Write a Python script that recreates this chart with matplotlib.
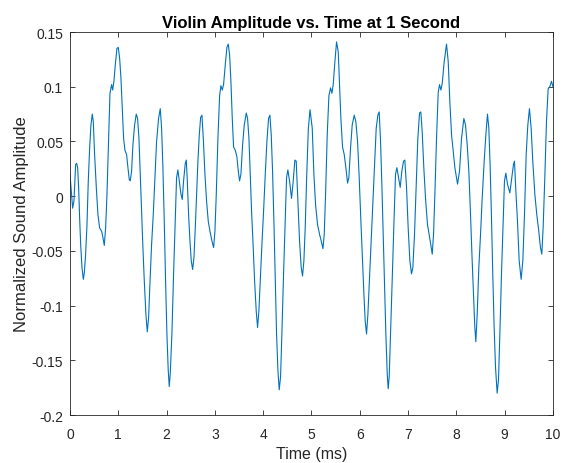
import matplotlib
matplotlib.use("Agg")
import matplotlib.pyplot as plt

# waveform, time in ms
time_ms = [
    0.000, 0.021, 0.055, 0.083, 0.117, 0.138, 0.159, 0.179, 0.200, 0.221,
    0.248, 0.276, 0.297, 0.324, 0.352, 0.379, 0.407, 0.434, 0.462, 0.483,
    0.510, 0.545, 0.579, 0.614, 0.655, 0.683, 0.710, 0.738, 0.766, 0.800,
    0.828, 0.862, 0.883, 0.910, 0.938, 0.972, 1.000, 1.028, 1.055, 1.083,
    1.110, 1.138, 1.172, 1.200, 1.228, 1.248, 1.276, 1.303, 1.338, 1.372,
    1.400, 1.428, 1.455, 1.483, 1.510, 1.538, 1.572, 1.600, 1.628, 1.655,
    1.690, 1.724, 1.759, 1.793, 1.834, 1.869, 1.897, 1.924, 1.952, 1.979,
    2.007, 2.034, 2.055, 2.076, 2.110, 2.145, 2.179, 2.207, 2.234, 2.262,
    2.297, 2.324, 2.352,
    2.387, 2.408, 2.429, 2.456, 2.484, 2.511, 2.539, 2.567, 2.594, 2.622,
    2.649, 2.677, 2.705, 2.732, 2.760, 2.794, 2.829, 2.863, 2.898, 2.939,
    2.974, 3.001, 3.029, 3.063, 3.098, 3.125, 3.153, 3.180, 3.215, 3.249,
    3.277, 3.305, 3.332, 3.360, 3.387, 3.422, 3.456, 3.484, 3.511, 3.539,
    3.574, 3.608, 3.650, 3.677, 3.705, 3.732, 3.760, 3.794, 3.822, 3.856,
    3.884, 3.911, 3.939, 3.974, 4.008, 4.043, 4.077, 4.111, 4.139, 4.167,
    4.194, 4.222, 4.250, 4.277, 4.305, 4.332, 4.360, 4.387, 4.422, 4.456,
    4.484, 4.511, 4.546, 4.587, 4.622, 4.656, 4.684, 4.718, 4.753, 4.787,
    4.815, 4.843, 4.870, 4.900, 4.935, 4.970,
    5.016, 5.050, 5.085, 5.126, 5.168, 5.202, 5.237, 5.264, 5.292, 5.326,
    5.361, 5.395, 5.423, 5.450, 5.485, 5.519, 5.554, 5.581, 5.609, 5.643,
    5.678, 5.712, 5.747, 5.774, 5.809, 5.843, 5.885, 5.919, 5.954, 5.988,
    6.023, 6.057, 6.085, 6.112, 6.140, 6.168, 6.202, 6.237, 6.271, 6.306,
    6.340, 6.374, 6.402, 6.430, 6.457, 6.485, 6.512, 6.540, 6.568, 6.588,
    6.609, 6.637, 6.671, 6.706, 6.740, 6.768, 6.802, 6.837, 6.871, 6.906,
    6.933, 6.968, 7.002, 7.037, 7.071, 7.099, 7.133, 7.168, 7.202, 7.237,
    7.264, 7.292, 7.326, 7.361, 7.402,
    7.458, 7.500, 7.527, 7.555, 7.589, 7.624, 7.651, 7.679, 7.707, 7.748,
    7.796, 7.831, 7.865, 7.900, 7.934, 7.969, 8.024, 8.065, 8.107, 8.155,
    8.189, 8.224, 8.258, 8.293, 8.327, 8.355, 8.382, 8.403, 8.431, 8.465,
    8.500, 8.534, 8.576, 8.610, 8.644, 8.672, 8.700, 8.727, 8.755, 8.782,
    8.810, 8.844, 8.872, 8.900, 8.934, 8.969, 8.996, 9.024, 9.058, 9.107,
    9.148, 9.182, 9.203, 9.231, 9.265, 9.300, 9.341, 9.376, 9.410, 9.445,
    9.479, 9.513, 9.548, 9.582, 9.624, 9.665, 9.706, 9.741, 9.769, 9.796,
    9.831, 9.865, 9.900, 9.934, 9.969, 10.000,
]
amplitude = [
    0.020, 0.008, -0.011, -0.004, 0.029, 0.030, 0.026, 0.008, -0.020, -0.044,
    -0.065, -0.076, -0.070, -0.053, -0.026, 0.014, 0.044, 0.065, 0.075, 0.068,
    0.038, 0.008, -0.017, -0.029, -0.032, -0.038, -0.045, -0.029, 0.002, 0.053,
    0.094, 0.102, 0.097, 0.105, 0.120, 0.135, 0.136, 0.126, 0.108, 0.080,
    0.053, 0.042, 0.038, 0.026, 0.015, 0.014, 0.023, 0.047, 0.065, 0.075,
    0.071, 0.053, 0.020, -0.017, -0.047, -0.077, -0.108, -0.124, -0.111, -0.080,
    -0.044, -0.017, 0.017, 0.050, 0.071, 0.080, 0.062, 0.026, -0.023, -0.077,
    -0.126, -0.159, -0.174, -0.162, -0.126, -0.071, -0.023, 0.017, 0.024, 0.014,
    0.002, -0.003, 0.014,
    0.030, 0.033, 0.014, -0.017, -0.041, -0.059, -0.067, -0.056, -0.029, 0.002,
    0.032, 0.056, 0.072, 0.074, 0.053, 0.020, -0.005, -0.023, -0.032, -0.041,
    -0.047, -0.032, 0.002, 0.053, 0.092, 0.101, 0.097, 0.102, 0.120, 0.136,
    0.139, 0.129, 0.105, 0.071, 0.045, 0.042, 0.036, 0.023, 0.014, 0.020,
    0.047, 0.065, 0.076, 0.071, 0.053, 0.020, -0.014, -0.047, -0.077, -0.105,
    -0.120, -0.105, -0.077, -0.044, -0.014, 0.020, 0.050, 0.071, 0.074, 0.056,
    0.023, -0.023, -0.077, -0.126, -0.159, -0.177, -0.165, -0.126, -0.071, -0.023,
    0.017, 0.024, 0.014, -0.002, 0.014, 0.033, 0.032, -0.005, -0.041, -0.065,
    -0.073, -0.059, -0.029, 0.017, 0.062, 0.079,
    0.062, 0.020, -0.008, -0.026, -0.035, -0.041, -0.048, -0.035, 0.002, 0.056,
    0.092, 0.099, 0.094, 0.102, 0.123, 0.141, 0.132, 0.102, 0.071, 0.045,
    0.038, 0.026, 0.012, 0.017, 0.044, 0.065, 0.074, 0.068, 0.050, 0.017,
    -0.023, -0.059, -0.089, -0.114, -0.126, -0.108, -0.074, -0.041, -0.005, 0.029,
    0.062, 0.074, 0.077, 0.050, 0.011, -0.035, -0.083, -0.126, -0.162, -0.176,
    -0.165, -0.126, -0.077, -0.026, 0.020, 0.026, 0.017, 0.008, 0.023, 0.032,
    0.033, 0.008, -0.029, -0.059, -0.071, -0.065, -0.035, 0.011, 0.053, 0.076,
    0.077, 0.059, 0.026, -0.002, -0.026,
    -0.041, -0.053, -0.035, 0.002, 0.053, 0.095, 0.102, 0.097, 0.103, 0.123,
    0.139, 0.123, 0.086, 0.056, 0.041, 0.026, 0.011, 0.023, 0.053, 0.071,
    0.065, 0.047, 0.023, -0.017, -0.059, -0.089, -0.120, -0.133, -0.108, -0.065,
    -0.035, -0.002, 0.032, 0.056, 0.075, 0.062, 0.026, -0.020, -0.074, -0.120,
    -0.156, -0.180, -0.168, -0.126, -0.071, -0.023, 0.014, 0.021, 0.011, 0.003,
    0.017, 0.029, 0.032, 0.005, -0.023, -0.059, -0.076, -0.059, -0.017, 0.038,
    0.065, 0.080, 0.062, 0.032, 0.002, -0.017, -0.032, -0.047, -0.053, -0.029,
    0.017, 0.068, 0.098, 0.100, 0.105, 0.100,
]

x_ticks = [0, 1, 2, 3, 4, 5, 6, 7, 8, 9, 10]
y_ticks = [-0.2, -0.15, -0.1, -0.05, 0, 0.05, 0.1, 0.15]
y_tick_labels = ["-0.2", "-0.15", "-0.1", "-0.05", "0", "0.05", "0.1", "0.15"]

plt.rcParams['font.family'] = ['Liberation Sans', 'DejaVu Sans']

fig = plt.figure(figsize=(5.63, 4.64), dpi=100)
ax = fig.add_axes([0.1243, 0.1034, 0.8579, 0.8254])

ax.plot(time_ms, amplitude, color='#0072BD', linewidth=0.8)

# MATLAB-like axes
ax.set_xlim(0, 10)
ax.set_ylim(-0.2, 0.15)
ax.set_xticks(x_ticks)
ax.set_yticks(y_ticks)
ax.set_yticklabels(y_tick_labels)
ax.tick_params(direction='in', top=True, right=True, length=3.5, width=0.6,
               colors='#262626', labelsize=10)
ax.tick_params(axis='x', pad=8.5)
ax.tick_params(axis='y', pad=5)
for spine in ax.spines.values():
    spine.set_color('#262626')
    spine.set_linewidth(0.6)

ax.set_xlabel('Time (ms)', fontsize=11.5, color='#262626', labelpad=3.5)
ax.set_ylabel('Normalized Sound Amplitude', fontsize=12, color='#262626', labelpad=1.5)
ax.set_title('Violin Amplitude vs. Time at 1 Second', fontsize=12,
             fontweight='bold', color='black', pad=3.5)

fig.savefig('out.png', dpi=100)
